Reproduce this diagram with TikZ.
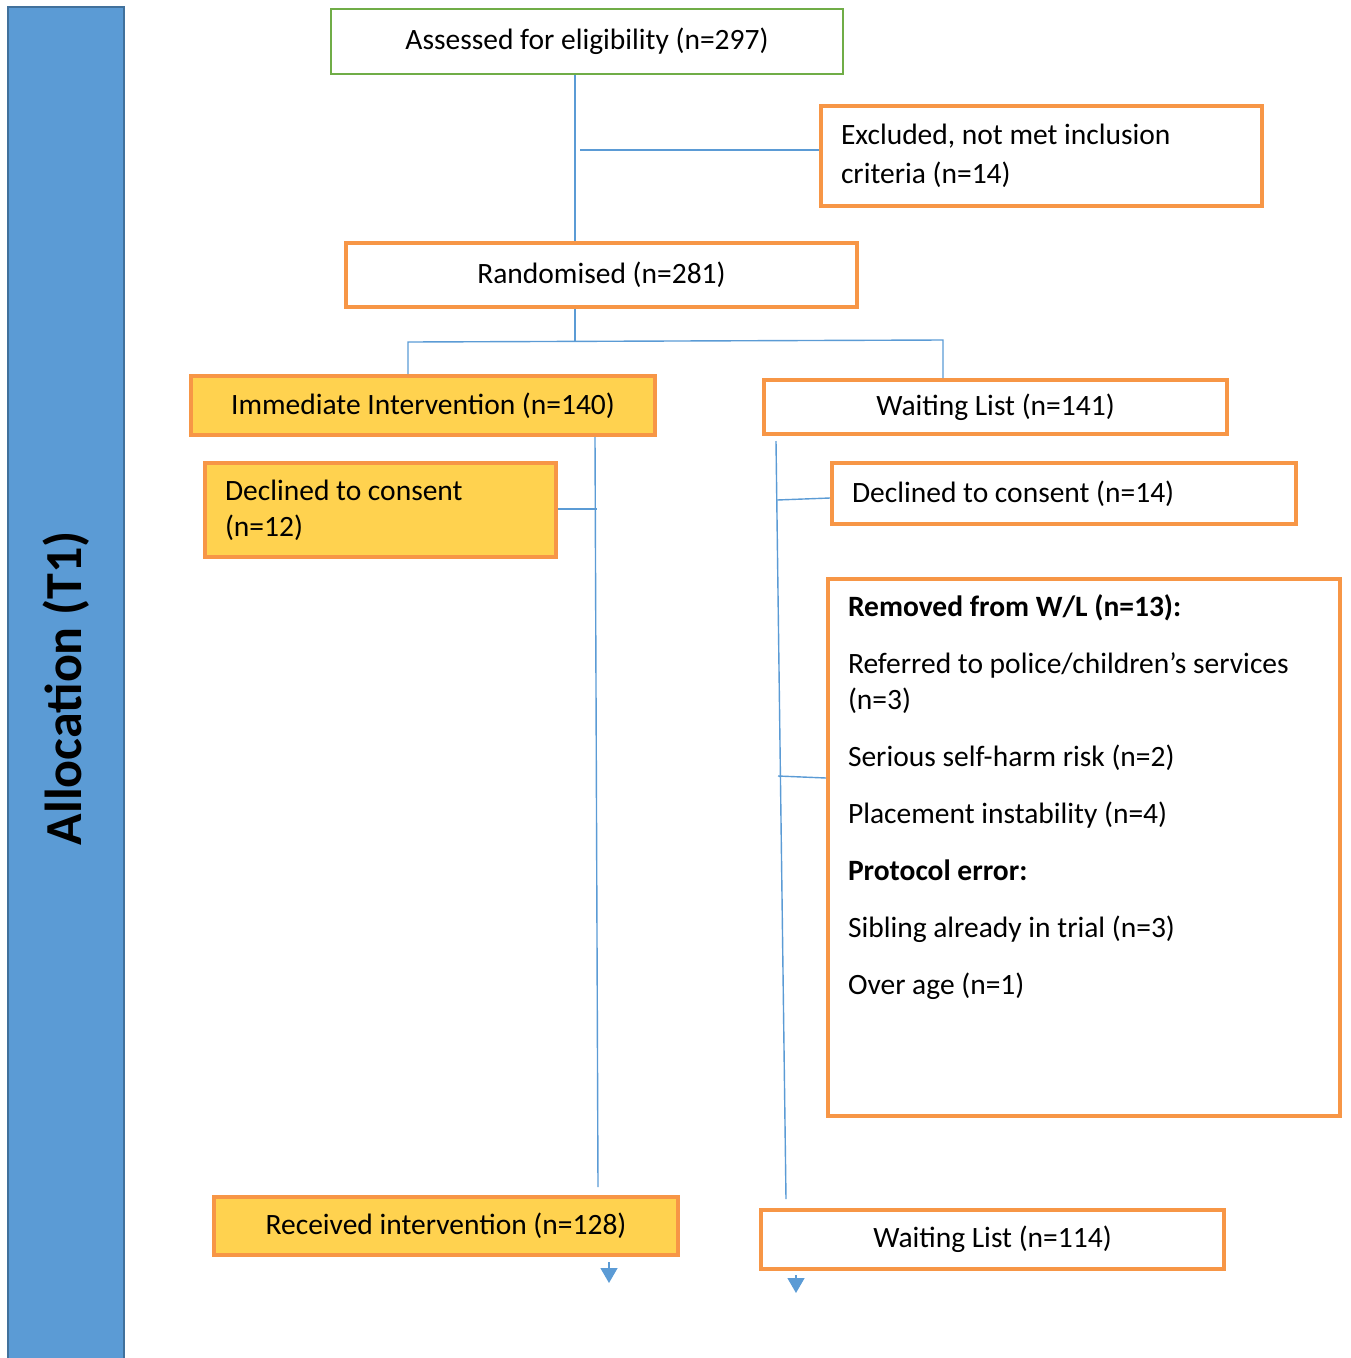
\documentclass[tikz,border=0pt]{standalone}
\usepackage{fontspec}
\setmainfont{Carlito}
\usetikzlibrary{arrows.meta}
\definecolor{orbox}{HTML}{F79646}
\definecolor{yfill}{HTML}{FFD24F}
\definecolor{grbox}{HTML}{70AD47}
\definecolor{lnk}{HTML}{5B9BD5}
\definecolor{barfill}{HTML}{5B9BD5}
\definecolor{bardraw}{HTML}{41719C}
\begin{document}
\begin{tikzpicture}[x=1pt,y=-1pt,
  box/.style={draw=orbox, line width=4pt, rectangle, inner sep=0pt, font=\fontsize{29.5}{36}\selectfont},
  ybox/.style={box, fill=yfill},
  gbox/.style={box, draw=grbox, line width=2pt},
  leftbox/.style={box, align=flush left, inner xsep=20pt},
  link/.style={draw=lnk, line width=1.4pt},
  arr/.style={link, -{Triangle[width=17pt,length=15pt]}}]
\useasboundingbox (0,0) rectangle (1351,1358);
% side bar
\node (bar) [fill=barfill, draw=bardraw, line width=2.5pt, rotate=90, minimum width=1362pt, minimum height=116pt, inner sep=0pt,
  font=\fontsize{52}{60}\selectfont\bfseries] at (66,688) {Allocation (T1)};
% boxes
\node (assess) [gbox, minimum width=512pt, minimum height=65pt] at (587,41.5) {Assessed for eligibility (n=297)};
\node (excl) [leftbox, font=\fontsize{29.5}{39}\selectfont, text width=401pt, minimum height=100pt] at (1041.5,156) {Excluded, not met inclusion\\criteria (n=14)};
\node (rand) [box, minimum width=511pt, minimum height=64pt] at (601.5,275) {Randomised (n=281)};
\node (imm) [ybox, minimum width=464pt, minimum height=59pt] at (423,405.5) {Immediate Intervention (n=140)};
\node (wl1) [box, minimum width=463pt, minimum height=54pt] at (995.5,407) {Waiting List (n=141)};
\node (decL) [ybox, align=flush left, inner xsep=20pt, text width=311pt, minimum height=94pt] at (380.5,510) {Declined to consent\\(n=12)};
\node (decR) [leftbox, text width=424pt, minimum height=61pt] at (1064,493.5) {Declined to consent (n=14)};
\node (rem) [box, inner xsep=20pt, inner ysep=16pt, anchor=north west] at (826,577)
  {\parbox[t][505pt][t]{472pt}{\raggedright
  \textbf{Removed from W/L (n=13):}\\[21pt]
  Referred to police/children’s services\\
  (n=3)\\[21pt]
  Serious self-harm risk (n=2)\\[21pt]
  Placement instability (n=4)\\[21pt]
  \textbf{Protocol error:}\\[21pt]
  Sibling already in trial (n=3)\\[21pt]
  Over age (n=1)}};
\node (recv) [ybox, minimum width=464pt, minimum height=58pt] at (446,1226) {Received intervention (n=128)};
\node (wl2) [box, minimum width=463pt, minimum height=59pt] at (992.5,1239.5) {Waiting List (n=114)};
% junction coordinates
\coordinate (jA) at (575,150);
\coordinate (jB) at (580,150);
\coordinate (jC) at (575,341);
\coordinate (jL) at (408,342);
\coordinate (jR) at (943,340);
\coordinate (sL) at (595,0);
\coordinate (eL) at (598,1187);
\coordinate (hL) at (597,509);
\coordinate (sR) at (776,441);
\coordinate (eR) at (786,1199);
\coordinate (hR1) at (777,500);
\coordinate (hR1e) at (0,498);
\coordinate (hR2) at (778,776);
\coordinate (hR2e) at (0,778);
\coordinate (aL) at (609,0);
\coordinate (aR) at (796,0);
% connectors
\draw[link] (assess.south -| jA) -- (rand.north -| jA);
\draw[link] (jB) -- (jB -| excl.west);
\draw[link] (rand.south -| jC) -- (jC);
\draw[link] (imm.north -| jL) -- (jL) -- (jR) -- (wl1.north -| jR);
\draw[link] (imm.south -| sL) -- (eL);
\draw[link] (decL.east |- hL) -- (hL);
\draw[link] (sR) -- (eR);
\draw[link] (hR1) -- (decR.west |- hR1e);
\draw[link] (hR2) -- (rem.west |- hR2e);
\draw[arr] (recv.south -| aL) ++(0,5) -- ++(0,21);
\draw[arr] (wl2.south -| aR) ++(0,4) -- ++(0,18);
\end{tikzpicture}
\end{document}
